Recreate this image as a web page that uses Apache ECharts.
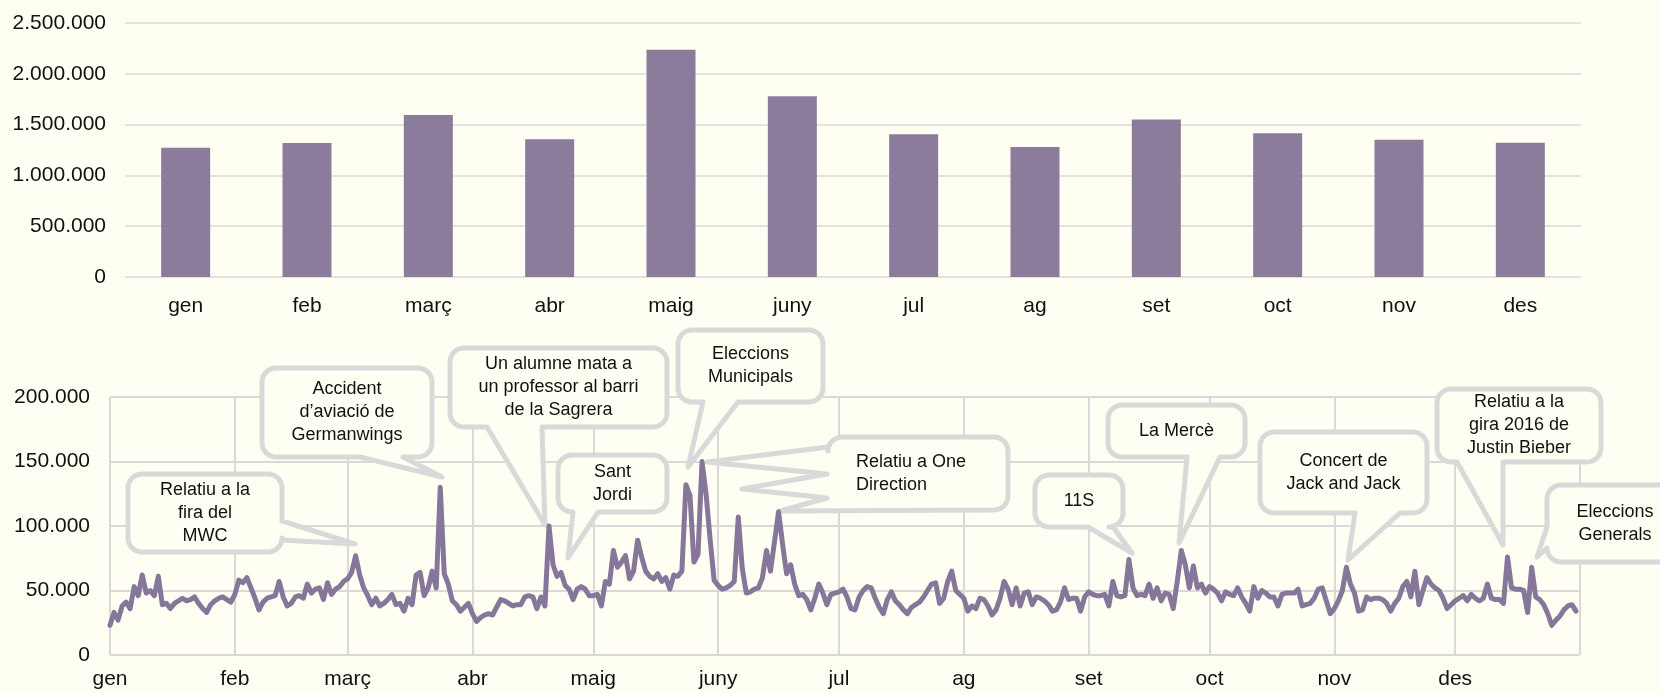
<!DOCTYPE html>
<html>
<head>
<meta charset="utf-8">
<script src="https://cdn.jsdelivr.net/npm/echarts@6/dist/echarts.min.js"></script>
<style>
html,body{margin:0;padding:0;background:#fefef3;}
#c{width:1660px;height:693px;}
</style>
</head>
<body>
<div id="c"></div>
<script>
// ---------- DATA ----------
const months = ['gen','feb','març','abr','maig','juny','jul','ag','set','oct','nov','des'];
const monthlyTotals = [1273000,1320000,1594000,1355000,2236000,1780000,1404000,1280000,1550000,1414000,1352000,1322000];
const monthStartDay = [0,31,59,90,120,151,181,212,243,273,304,334];

// daily values, in thousands
const janDaily = [23,33,27,38,41,36,53,46,62,48,50,46,61,39,40,36,40,42,44,42,43,45,40,36,33,39,42,44,45,43,41];
const febDaily = [47,58,56,60,52,44,35,41,44,45,46,57,45,38,40,45,46,44,55,48,51,52,43,56,47,51,53,57];
const marDaily = [59,64,77,62,52,46,39,44,38,40,43,47,39,40,34,44,39,62,64,46,52,65,52,130,63,55,42,39,34,37,40];
const aprDaily = [32,26,29,31,32,31,37,43,42,40,38,39,39,45,46,45,36,45,38,100,70,61,64,54,51,43,51,53,51,46];
const mayDaily = [46,47,38,57,55,81,68,72,77,59,65,89,76,65,61,59,63,57,60,51,62,61,65,132,124,72,78,150,125,90,58];
const junDaily = [54,51,52,54,57,107,67,48,49,51,52,60,81,65,88,111,86,63,70,55,46,47,43,35,44,55,48,39,47,48];
const julDaily = [49,51,45,36,35,45,50,53,52,44,37,32,43,49,42,39,35,32,37,39,41,45,50,55,56,40,44,57,65,50,47];
const augDaily = [44,34,38,36,44,43,38,31,35,44,57,51,39,52,38,48,49,39,45,44,42,39,34,35,41,52,43,44,44,34,45];
const sepDaily = [49,47,46,46,47,38,57,46,45,46,74,52,46,47,46,55,44,52,42,48,47,36,57,81,70,52,69,52,55,48];
const octDaily = [53,51,48,42,49,47,46,52,45,40,34,53,44,50,48,45,45,38,47,48,48,48,51,38,39,40,44,51,52,42,32];
const novDaily = [36,42,50,68,55,48,34,35,45,43,44,44,43,40,34,40,44,53,57,45,65,39,50,60,55,52,50,44,36,39];
const decDaily = [42,44,46,42,47,44,42,44,55,44,43,43,40,76,52,51,51,50,33,68,45,43,39,32,23,27,30,35,38,39,34];

const callouts = [
  {lines:['Relatiu a la','fira del','MWC'], box:[128,474,154,78], tail:{side:'right', a:521, b:540, tip:[355,544]}},
  {lines:['Accident','d\u2019aviació de','Germanwings'], box:[262,368,170,89], tail:{side:'bottom', a:360, b:403, tip:[442,477]}},
  {lines:['Un alumne mata a','un professor al barri','de la Sagrera'], box:[450,348,217,79], tail:{side:'bottom', a:487, b:542, tip:[545,525]}},
  {lines:['Sant','Jordi'], box:[558,455,109,57], tail:{side:'bottom', a:573, b:598, tip:[568,558]}},
  {lines:['Eleccions','Municipals'], box:[678,330,145,72], tail:{side:'bottom', a:703, b:738, tip:[688,467]}},
  {lines:['Relatiu a One','Direction'], box:[828,437,180,73], align:'left', textX:856,
   tail:{side:'bottomleft', pts:[[780,511],[827,498],[742,489],[827,474],[707,462],[828,447]]}},
  {lines:['11S'], box:[1035,475,88,52], tail:{side:'bottom', a:1088, b:1113, tip:[1132,553]}},
  {lines:['La Mercè'], box:[1108,405,137,52], tail:{side:'bottom', a:1187, b:1220, tip:[1179,543]}},
  {lines:['Concert de','Jack and Jack'], box:[1260,432,167,81], tail:{side:'bottom', a:1355, b:1400, tip:[1348,560]}},
  {lines:['Relatiu a la','gira 2016 de','Justin Bieber'], box:[1437,389,164,73], tail:{side:'bottom', a:1457, b:1503, tip:[1503,545]}},
  {lines:['Eleccions','Generals'], box:[1547,485,136,77], tail:{side:'left', a:527, b:548, tip:[1537,557]}}
];

// ---------- BUILD ----------
const daily = [].concat(janDaily,febDaily,marDaily,aprDaily,mayDaily,junDaily,julDaily,augDaily,sepDaily,octDaily,novDaily,decDaily).map(v => v * 1000);
const dayCats = Array.from({length: daily.length + 1}, (_, i) => String(i));
const FONT = '"Liberation Sans", Arial, Helvetica, sans-serif';
const BG = '#fefef3';
const GRID = '#d9d9d9';
const fmt = v => String(v).replace(/\B(?=(\d{3})+(?!\d))/g, '.');

// rounded-corner arc points: centre (cx,cy), from angle a0 to a1 (radians)
function arc(cx, cy, r, a0, a1) {
  const pts = [], n = 8;
  for (let i = 0; i <= n; i++) {
    const a = a0 + (a1 - a0) * i / n;
    pts.push([cx + r * Math.cos(a), cy + r * Math.sin(a)]);
  }
  return pts;
}

function bubblePoints(c) {
  const [x, y, w, h] = c.box, r = 14, R = x + w, B = y + h, t = c.tail, PI = Math.PI;
  let p = [];
  p = p.concat(arc(R - r, y + r, r, -PI / 2, 0));             // top-right
  if (t.side === 'right') p.push([R, t.a], t.tip, [R, t.b]);
  p = p.concat(arc(R - r, B - r, r, 0, PI / 2));              // bottom-right
  if (t.side === 'bottom') p.push([t.b, B], t.tip, [t.a, B]);
  if (t.side === 'bottomleft') {
    p = p.concat(t.pts);
  } else {
    p = p.concat(arc(x + r, B - r, r, PI / 2, PI));           // bottom-left
    if (t.side === 'left') p.push([x, t.b], t.tip, [x, t.a]);
  }
  p = p.concat(arc(x + r, y + r, r, PI, 1.5 * PI));           // top-left
  return p;
}

const elements = [];
callouts.forEach(c => {
  elements.push({
    type: 'polygon', z: 1, silent: true,
    shape: {points: bubblePoints(c)},
    style: {fill: BG, stroke: GRID, lineWidth: 5, lineJoin: 'round'}
  });
  const [x, y, w, h] = c.box;
  elements.push({
    type: 'text', z: 3, silent: true,
    x: c.align === 'left' ? c.textX : x + w / 2,
    y: y + h / 2,
    style: {
      text: c.lines.join('\n'), font: '18px ' + FONT, fill: '#111',
      align: c.align === 'left' ? 'left' : 'center', verticalAlign: 'middle', lineHeight: 23
    }
  });
});

const chart = echarts.init(document.getElementById('c'), null, {renderer: 'canvas'});
chart.setOption({
  backgroundColor: BG,
  animation: false,
  grid: [
    {left: 125, right: 79, top: 23, height: 254},
    {left: 110, right: 80, top: 397, height: 258}
  ],
  xAxis: [
    {
      gridIndex: 0, type: 'category', data: months,
      axisLine: {show: false}, axisTick: {show: false},
      axisLabel: {fontSize: 21, color: '#111', margin: 19, fontFamily: FONT}
    },
    {
      gridIndex: 1, type: 'category', data: dayCats, boundaryGap: false,
      axisLine: {show: false}, axisTick: {show: false},
      axisLabel: {
        fontSize: 21, color: '#111', margin: 14, fontFamily: FONT,
        interval: (i) => monthStartDay.indexOf(i) >= 0,
        formatter: (v) => { const k = monthStartDay.indexOf(Number(v)); return k >= 0 ? months[k] : ''; }
      },
      splitLine: {
        show: true,
        interval: (i) => monthStartDay.indexOf(i) >= 0 || i === daily.length,
        lineStyle: {color: GRID, width: 2}
      }
    }
  ],
  yAxis: [
    {
      gridIndex: 0, type: 'value', min: 0, max: 2500000, interval: 500000,
      axisLine: {show: false}, axisTick: {show: false},
      axisLabel: {fontSize: 21, color: '#111', margin: 19, fontFamily: FONT, formatter: fmt},
      splitLine: {lineStyle: {color: GRID, width: 1.6}}
    },
    {
      gridIndex: 1, type: 'value', min: 0, max: 200000, interval: 50000,
      axisLine: {show: false}, axisTick: {show: false},
      axisLabel: {fontSize: 21, color: '#111', margin: 20, fontFamily: FONT, formatter: fmt},
      splitLine: {lineStyle: {color: GRID, width: 2}}
    }
  ],
  series: [
    {
      type: 'bar', xAxisIndex: 0, yAxisIndex: 0, data: monthlyTotals, barWidth: 49,
      itemStyle: {color: '#8b7c9c'}
    },
    {
      type: 'line', xAxisIndex: 1, yAxisIndex: 1, data: daily, symbol: 'none', z: 2,
      lineStyle: {width: 5, color: '#86779a', join: 'round', cap: 'round'}
    }
  ],
  graphic: elements
});
</script>
</body>
</html>
